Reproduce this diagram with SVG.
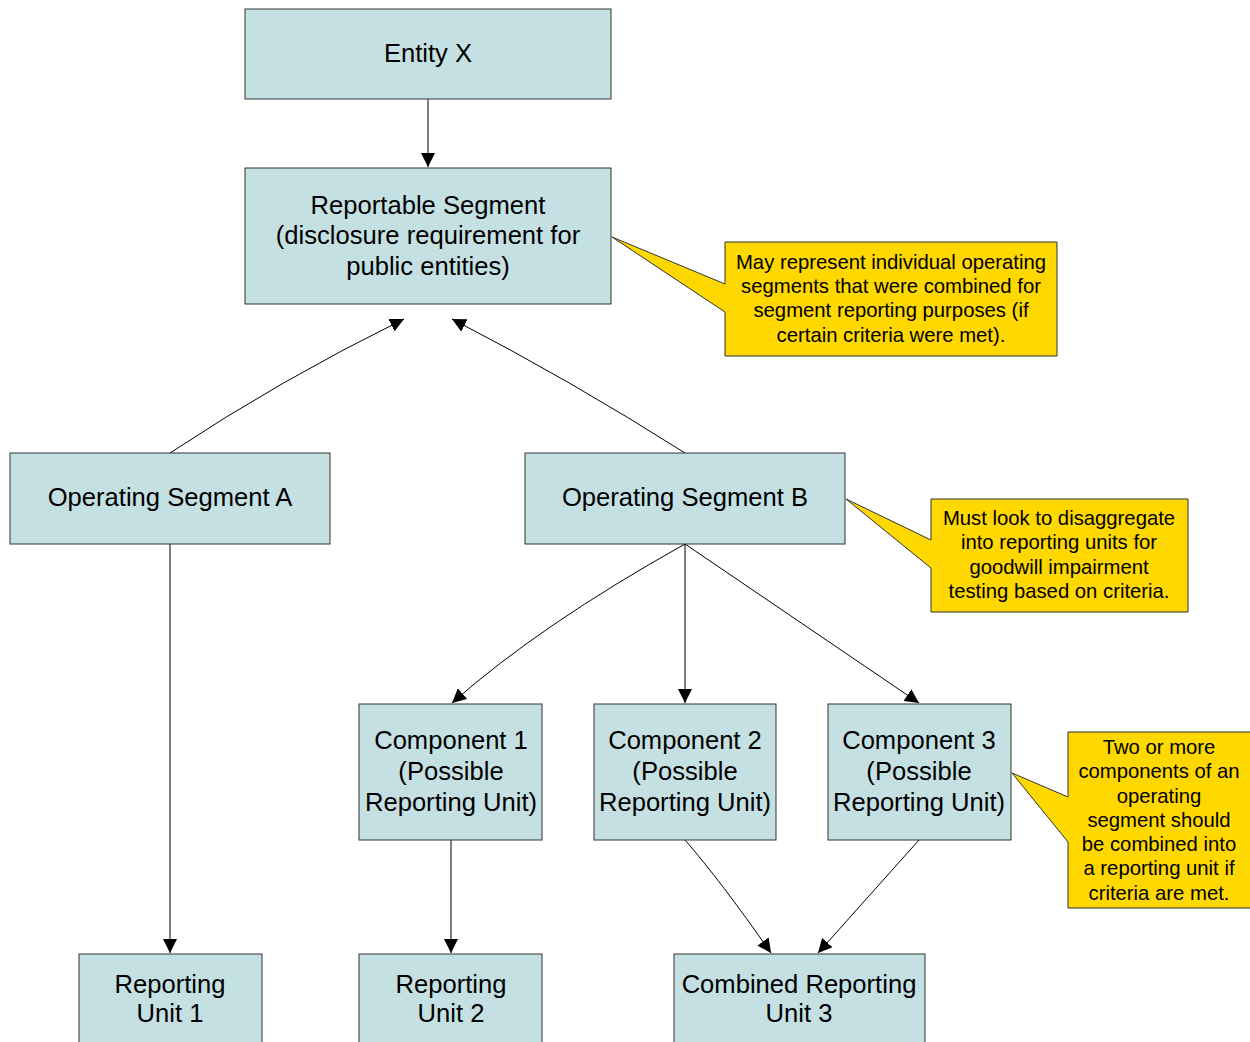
<svg xmlns="http://www.w3.org/2000/svg" width="1250" height="1042" viewBox="0 0 1250 1042">
<style>
.box{fill:#C5E0E3;stroke:#333;stroke-width:1}
.call{fill:#FFD800;stroke:#333;stroke-width:1}
.t{font-family:"Liberation Sans",Arial,sans-serif;font-size:25.6px;fill:#000;text-anchor:middle}
.c{font-family:"Liberation Sans",Arial,sans-serif;font-size:20.3px;fill:#000;text-anchor:middle}
.e{fill:none;stroke:#000;stroke-width:1;marker-end:url(#ah)}
</style>
<defs>
<marker id="ah" markerUnits="userSpaceOnUse" markerWidth="14" markerHeight="14" viewBox="0 0 14 14" refX="14" refY="7" orient="auto">
<path d="M0,0 L14,7 L0,14 Z" fill="#000"/>
</marker>
</defs>
<rect width="1250" height="1042" fill="#fff"/>
<g id="connectors">
<path class="e" d="M428,99 L428,167"/>
<path class="e" d="M170,453 Q280,380 404,319"/>
<path class="e" d="M685,453 Q570,380 452,319"/>
<path class="e" d="M170,544 L170,953"/>
<path class="e" d="M685,544 Q540,625 452,703"/>
<path class="e" d="M685,544 L685,703"/>
<path class="e" d="M685,544 L919,703"/>
<path class="e" d="M451,840 L451,953"/>
<path class="e" d="M685,840 Q720,880 771,953"/>
<path class="e" d="M919,840 L818,953"/>
</g>
<g id="entity-x">
<rect class="box" x="245" y="9" width="366" height="90"/>
<text class="t" x="428" y="62">Entity X</text>
</g>
<g id="reportable-segment">
<rect class="box" x="245" y="168" width="366" height="136"/>
<text class="t" x="428" y="214">Reportable Segment</text>
<text class="t" x="428" y="244">(disclosure requirement for</text>
<text class="t" x="428" y="275">public entities)</text>
</g>
<g id="note-1">
<path class="call" d="M725,242 H1057 V356 H725 V312 L612,237 L725,284 Z"/>
<text class="c" x="891" y="269">May represent individual operating</text>
<text class="c" x="891" y="293">segments that were combined for</text>
<text class="c" x="891" y="317">segment reporting purposes (if</text>
<text class="c" x="891" y="342">certain criteria were met).</text>
</g>
<g id="operating-segment-a">
<rect class="box" x="10" y="453" width="320" height="91"/>
<text class="t" x="170" y="506">Operating Segment A</text>
</g>
<g id="operating-segment-b">
<rect class="box" x="525" y="453" width="320" height="91"/>
<text class="t" x="685" y="506">Operating Segment B</text>
</g>
<g id="note-2">
<path class="call" d="M931,499 H1188 V612 H931 V568 L846,499 L931,540 Z"/>
<text class="c" x="1059" y="525">Must look to disaggregate</text>
<text class="c" x="1059" y="549">into reporting units for</text>
<text class="c" x="1059" y="574">goodwill impairment</text>
<text class="c" x="1059" y="598">testing based on criteria.</text>
</g>
<g id="component-1">
<rect class="box" x="359" y="704" width="183" height="136"/>
<text class="t" x="451" y="749">Component 1</text>
<text class="t" x="451" y="780">(Possible</text>
<text class="t" x="451" y="811">Reporting Unit)</text>
</g>
<g id="component-2">
<rect class="box" x="594" y="704" width="182" height="136"/>
<text class="t" x="685" y="749">Component 2</text>
<text class="t" x="685" y="780">(Possible</text>
<text class="t" x="685" y="811">Reporting Unit)</text>
</g>
<g id="component-3">
<rect class="box" x="828" y="704" width="183" height="136"/>
<text class="t" x="919" y="749">Component 3</text>
<text class="t" x="919" y="780">(Possible</text>
<text class="t" x="919" y="811">Reporting Unit)</text>
</g>
<g id="note-3">
<path class="call" d="M1068,732 H1251 V908 H1068 V842 L1012,773 L1068,797 Z"/>
<text class="c" x="1159" y="754">Two or more</text>
<text class="c" x="1159" y="778">components of an</text>
<text class="c" x="1159" y="803">operating</text>
<text class="c" x="1159" y="827">segment should</text>
<text class="c" x="1159" y="851">be combined into</text>
<text class="c" x="1159" y="875">a reporting unit if</text>
<text class="c" x="1159" y="900">criteria are met.</text>
</g>
<g id="reporting-unit-1">
<rect class="box" x="79" y="954" width="183" height="100"/>
<text class="t" x="170" y="993">Reporting</text>
<text class="t" x="170" y="1022">Unit 1</text>
</g>
<g id="reporting-unit-2">
<rect class="box" x="359" y="954" width="183" height="100"/>
<text class="t" x="451" y="993">Reporting</text>
<text class="t" x="451" y="1022">Unit 2</text>
</g>
<g id="combined-reporting-unit-3">
<rect class="box" x="674" y="954" width="251" height="100"/>
<text class="t" x="799" y="993">Combined Reporting</text>
<text class="t" x="799" y="1022">Unit 3</text>
</g>
</svg>
